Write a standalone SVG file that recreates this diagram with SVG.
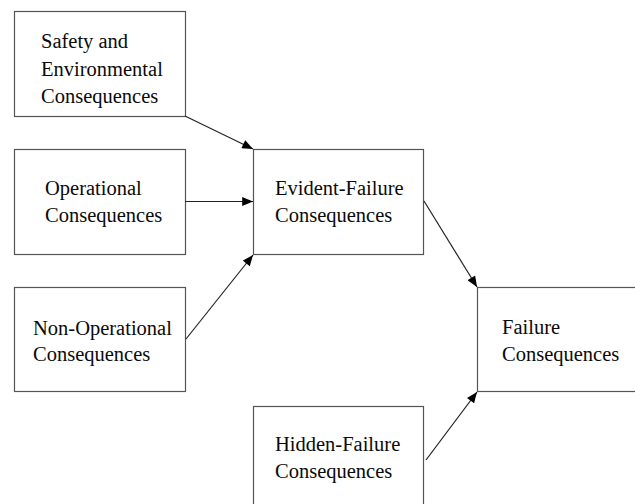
<svg xmlns="http://www.w3.org/2000/svg" width="635" height="504" viewBox="0 0 635 504">
  <style>
    .box { fill: #ffffff; stroke: #555555; stroke-width: 1.2; }
    text { font-family: 'Liberation Serif', 'DejaVu Serif', serif; font-size: 20.5px; fill: #0a0a0a; }
    .edge { stroke: #222222; stroke-width: 1.2; fill: none; marker-end: url(#arrow); }
  </style>
  <defs>
    <marker id="arrow" viewBox="0 0 12 10" refX="12" refY="5" markerWidth="12" markerHeight="9" markerUnits="userSpaceOnUse" orient="auto">
      <path d="M0,0 L12,5 L0,10 z" fill="#000000"/>
    </marker>
  </defs>
  <rect width="635" height="504" fill="#ffffff"/>

  <g id="safety">
    <rect class="box" x="14.5" y="11.5" width="171" height="105"/>
    <text x="41" y="48">Safety and</text>
    <text x="41" y="76">Environmental</text>
    <text x="41" y="103">Consequences</text>
  </g>

  <g id="operational">
    <rect class="box" x="14.5" y="149.5" width="171" height="105"/>
    <text x="45" y="195">Operational</text>
    <text x="45" y="222">Consequences</text>
  </g>

  <g id="non-operational">
    <rect class="box" x="14.5" y="287.5" width="171" height="104"/>
    <text x="33" y="335">Non-Operational</text>
    <text x="33" y="361">Consequences</text>
  </g>

  <g id="evident">
    <rect class="box" x="253.5" y="149.5" width="170" height="105"/>
    <text x="275" y="195">Evident-Failure</text>
    <text x="275" y="222">Consequences</text>
  </g>

  <g id="failure">
    <rect class="box" x="477.5" y="287.5" width="170" height="104"/>
    <text x="502" y="334">Failure</text>
    <text x="502" y="361">Consequences</text>
  </g>

  <g id="hidden">
    <rect class="box" x="253.5" y="406.5" width="170" height="110"/>
    <text x="275" y="451">Hidden-Failure</text>
    <text x="275" y="478">Consequences</text>
  </g>

  <g id="connectors">
    <line class="edge" x1="185" y1="116" x2="253" y2="149"/>
    <line class="edge" x1="185" y1="201.5" x2="253" y2="201.5"/>
    <line class="edge" x1="186" y1="339" x2="253" y2="255"/>
    <line class="edge" x1="424" y1="201" x2="477" y2="287"/>
    <line class="edge" x1="426" y1="460" x2="477" y2="392"/>
  </g>
</svg>
